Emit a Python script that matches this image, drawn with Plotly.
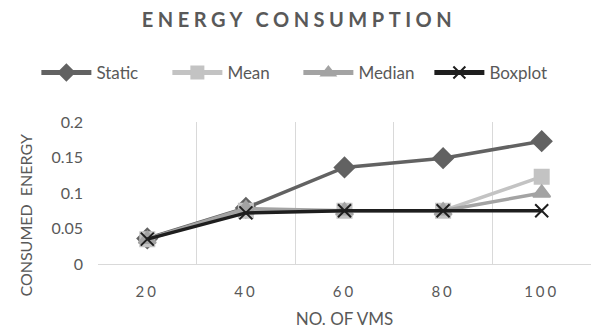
import plotly.graph_objects as go

# Number of virtual machines (category labels) and consumed energy per scheme
vms = ["20", "40", "60", "80", "100"]
static = [0.036, 0.079, 0.136, 0.149, 0.173]
mean = [0.035, 0.075, 0.075, 0.075, 0.123]
median = [0.035, 0.078, 0.075, 0.075, 0.100]
boxplot = [0.035, 0.072, 0.075, 0.075, 0.075]

FONT = "Lato"
TXT = "#595959"

series = [
    ("Static", static, "#626262", "diamond", 15),
    ("Mean", mean, "#c3c3c3", "square", 14),
    ("Median", median, "#a3a3a3", "triangle-up", 15),
    ("Boxplot", boxplot, "#1e1e1e", "x-thin", 13),
]

fig = go.Figure()
for name, vals, color, symbol, size in series:
    fig.add_trace(go.Scatter(
        x=vms, y=vals, name=name, mode="lines+markers",
        line=dict(color=color, width=3.5),
        marker=dict(symbol=symbol, size=size, color=color,
                    line=dict(color=color, width=2)),
    ))

fig.update_layout(
    width=598, height=334,
    margin=dict(l=98, r=7, t=122, b=70),
    paper_bgcolor="white", plot_bgcolor="white",
    font=dict(family=FONT, color=TXT, size=14),
    title=dict(text="<b>ENERGY CONSUMPTION</b>", x=0.5, xanchor="center",
               y=0.94, yanchor="middle",
               font=dict(family=FONT, size=20, color=TXT)),
    legend=dict(orientation="h", x=-0.125, xanchor="left", y=1.345,
                yanchor="middle", font=dict(family=FONT, size=17, color=TXT),
                itemwidth=50, itemsizing="constant", traceorder="normal",
                entrywidth=66, entrywidthmode="pixels"),
    showlegend=True,
    annotations=[dict(
        text="CONSUMED&nbsp;&nbsp;ENERGY", textangle=-90,
        xref="paper", yref="paper", x=-0.149, y=0.338,
        xanchor="center", yanchor="middle", showarrow=False,
        font=dict(family=FONT, size=16, color=TXT),
    )],
)

fig.update_xaxes(
    type="category", range=[-0.5, 4.5], tickson="boundaries", ticks="",
    showgrid=True, gridcolor="#d9d9d9", gridwidth=1,
    showline=True, linecolor="#d9d9d9", linewidth=1,
    tickfont=dict(size=15, color=TXT), ticklabelstandoff=14,
    title=dict(text="NO. OF VMS", font=dict(size=17, color=TXT), standoff=14),
)
fig.update_yaxes(
    range=[0, 0.2], dtick=0.05, showgrid=False, zeroline=False,
    showline=False, ticks="",
    tickfont=dict(size=16, color=TXT), ticklabelstandoff=14,
)

# Widen the spacing of the title and category labels
post = """
document.querySelectorAll('.gtitle').forEach(function(e){e.style.letterSpacing='4.5px';});
document.querySelectorAll('.xtick text').forEach(function(e){e.style.letterSpacing='3px';});
"""
fig.write_html("out.html", post_script=post)
